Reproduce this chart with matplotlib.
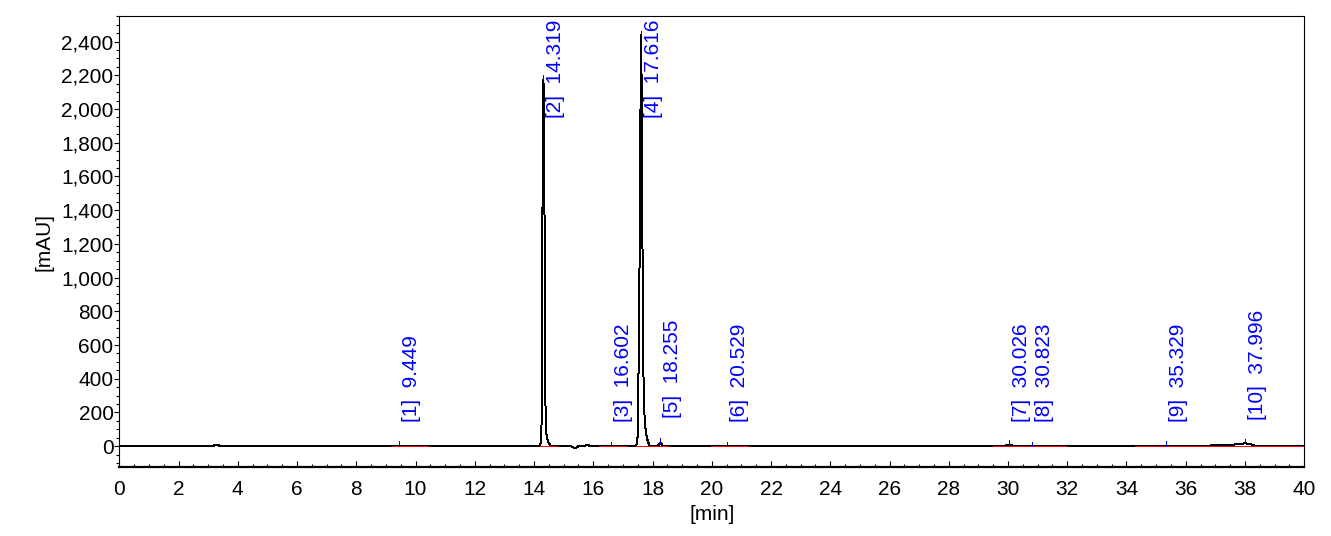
#!/usr/bin/env python3
# Chromatogram recreation, UV trace with integrated peaks
from matplotlib import pyplot as plt
from matplotlib import ticker

# trace points (time in min, signal in mAU)
traceTime = [0.0, 3.15, 3.22, 3.33, 3.42, 9.40, 9.45, 9.50, 11.50, 11.55, 11.72, 11.76, 12.0,
             14.20, 14.25, 14.27, 14.285, 14.30, 14.319, 14.34, 14.355, 14.37, 14.39, 14.41, 14.45,
             14.50, 14.55, 14.65, 15.25, 15.35, 15.42, 15.50, 15.70, 15.76, 15.85, 15.90,
             17.45, 17.50, 17.54, 17.57, 17.595, 17.616, 17.64, 17.66, 17.68, 17.71, 17.75, 17.79,
             17.84, 17.90, 17.95, 18.18, 18.23, 18.26, 18.29, 18.34, 18.40,
             29.90, 29.97, 30.03, 30.10, 30.18, 35.25, 35.33, 35.40,
             36.70, 36.85, 37.20, 37.60, 37.85, 38.00, 38.15, 38.30, 38.45, 40.0]
traceSignal = [0, 0, 6, 7, 0, 0, 3, 0, 0, 4, 4, -1, 0,
               0, 40, 600, 1350, 1900, 2175, 1900, 1350, 600, 200, 80, 40,
               20, 5, 0, 0, -10, -8, 0, 0, 5, 5, 0,
               0, 60, 600, 1250, 2000, 2440, 2000, 1250, 600, 250, 120, 70,
               30, 5, 0, 0, 15, 22, 18, 3, 0,
               0, 8, 10, 8, 0, 0, 4, 0,
               0, 5, 7, 9, 14, 17, 14, 5, 0, 0]

# integrated peaks
peakNumbers = [1, 2, 3, 4, 5, 6, 7, 8, 9, 10]
peakTimes = [9.449, 14.319, 16.602, 17.616, 18.255, 20.529, 30.026, 30.823, 35.329, 37.996]
peakHeights = [3, 2175, 0, 2440, 22, 0, 10, 0, 4, 17]
labelHeights = [142, 1945, 142, 1945, 165, 142, 142, 142, 142, 155]

# integration baselines (start, end) in min
baselineStarts = [9.22, 14.21, 16.20, 17.45, 19.98, 29.50, 34.30]
baselineEnds = [10.43, 14.78, 17.11, 18.53, 21.23, 31.97, 40.00]

plt.rcParams["font.family"] = ["Liberation Sans", "DejaVu Sans"]
fig = plt.figure(figsize=(13.31, 5.36), dpi=100)
ax = fig.add_axes([0.0896, 0.1282, 0.8903, 0.8414])

ax.plot(traceTime, traceSignal, color="black", linewidth=0.72, antialiased=False, zorder=2)
for start, end in zip(baselineStarts, baselineEnds):
    ax.plot([start, end], [0, 0], color="red", linewidth=0.72, antialiased=False, zorder=3)
ax.vlines(peakTimes, peakHeights, [h + 25 for h in peakHeights], color="blue", linewidth=0.72,
          antialiased=False, zorder=4)
for num, rt, ly in zip(peakNumbers, peakTimes, labelHeights):
    ax.text(rt + 0.1, ly, "[" + str(num) + "]  " + "%.3f" % rt, rotation=90,
            ha="left", va="bottom", color="blue", fontsize=15, clip_on=False)

ax.set_xlim(0, 40)
ax.set_ylim(-125, 2550)
ax.xaxis.set_major_locator(ticker.MultipleLocator(2))
ax.xaxis.set_minor_locator(ticker.MultipleLocator(0.5))
ax.yaxis.set_major_locator(ticker.FixedLocator(list(range(0, 2401, 200))))
ax.yaxis.set_minor_locator(ticker.MultipleLocator(50))
ax.yaxis.set_major_formatter(ticker.StrMethodFormatter("{x:,.0f}"))
ax.tick_params(axis="x", which="major", direction="in", length=4, width=0.8, pad=9, labelsize=15)
ax.tick_params(axis="x", which="minor", direction="in", length=2.5, width=0.8)
ax.tick_params(axis="y", which="major", direction="out", length=3.6, width=0.8, pad=0.5, labelsize=15)
ax.tick_params(axis="y", which="minor", direction="out", length=2.2, width=0.8)
for side in ["top", "left", "right"]:
    ax.spines[side].set_linewidth(0.8)
ax.spines["bottom"].set_linewidth(1.6)

ax.set_xlabel("[min]", fontsize=15)
ax.set_ylabel("[mAU]", fontsize=15)
ax.xaxis.set_label_coords(0.5, -0.084)
ax.yaxis.set_label_coords(-0.0557, 0.5)

fig.set_facecolor("white")
fig.savefig("out.png", dpi=100)
